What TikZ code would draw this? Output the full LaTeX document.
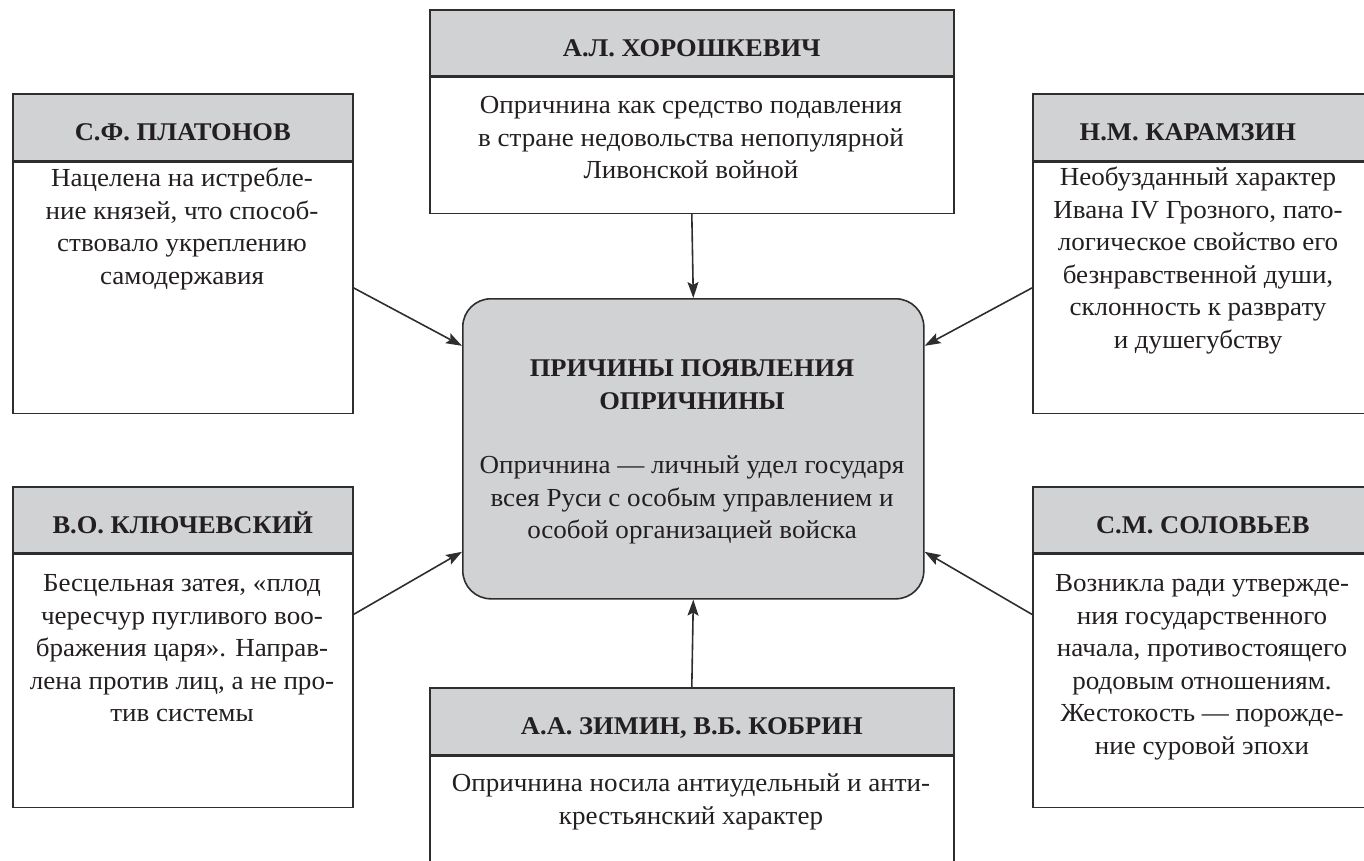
\documentclass[tikz,border=0pt]{standalone}
\usepackage{fontspec}
\setmainfont{Liberation Serif}[FakeStretch=1.04]
\usetikzlibrary{arrows.meta}
\definecolor{hdr}{HTML}{D1D2D4}
\definecolor{ink}{HTML}{2E2E2E}
\definecolor{txt}{HTML}{231F20}
\newcommand\bodyfnt{\fontsize{26}{32.5}\selectfont}
\newcommand\headfnt{\fontsize{25.5}{33}\selectfont\bfseries}
\begin{document}
\begin{tikzpicture}[x=1pt,y=-1pt,
  hbox/.style={draw=ink,line width=1.6pt,fill=hdr,inner sep=0pt,anchor=north west,
    minimum width=#1,font=\headfnt,text=txt,text height=27pt,text depth=0pt},
  bbox/.style={draw=ink,line width=1.6pt,fill=white,inner sep=0pt,anchor=north west,
    minimum width=#1},
  btext/.style={anchor=north,inner sep=0pt,align=center,font=\bodyfnt,text=txt},
  arr/.style={draw=ink,line width=1.6pt,-{Stealth[length=16pt,width=11pt,inset=3pt]}}]
\useasboundingbox (0,0) rectangle (1364,860);
\clip (0,0) rectangle (1364,860);

% top box
\node[hbox=524pt,minimum height=66pt] (tH) at (429,9) {А.Л. ХОРОШКЕВИЧ};
\node[bbox=524pt,minimum height=136pt] (tB) at (tH.south west) {};
\node[btext] (tT) at (691,91) {\strut Опричнина как средство подавления\\в стране недовольства непопулярной\\Ливонской войной};

% left top
\node[hbox=340pt,minimum height=67pt] (ltH) at (12,93) {С.Ф. ПЛАТОНОВ};
\node[bbox=340pt,minimum height=251pt] (ltB) at (ltH.south west) {};
\node[btext] (ltT) at (182,164) {\strut Нацелена на истребле-\\ние князей, что способ-\\ствовало укреплению\\самодержавия};

% right top
\node[hbox=340pt,minimum height=67pt] (rtH) at (1032,93) {\hspace*{-30pt}Н.М. КАРАМЗИН};
\node[bbox=340pt,minimum height=251pt] (rtB) at (rtH.south west) {};
\node[btext] (rtT) at (1198,163) {\strut Необузданный характер\\Ивана IV Грозного, пато-\\логическое свойство его\\безнравственной души,\\склонность к разврату\\и душегубству};

% left bottom
\node[hbox=340pt,minimum height=66pt] (lbH) at (12,486) {В.О. КЛЮЧЕВСКИЙ};
\node[bbox=340pt,minimum height=253pt] (lbB) at (lbH.south west) {};
\node[btext] (lbT) at (182,569) {\strut Бесцельная затея, «плод\\чересчур пугливого воо-\\бражения царя». Направ-\\лена против лиц, а не про-\\тив системы};

% right bottom
\node[hbox=340pt,minimum height=66pt] (rbH) at (1032,486) {С.М. СОЛОВЬЕВ};
\node[bbox=340pt,minimum height=253pt] (rbB) at (rbH.south west) {};
\node[btext] (rbT) at (1202,569) {\strut Возникла ради утвержде-\\ния государственного\\начала, противостоящего\\родовым отношениям.\\Жестокость — порожде-\\ние суровой эпохи};

% bottom box
\node[hbox=524pt,minimum height=67pt] (bH) at (429,687) {А.А. ЗИМИН, В.Б. КОБРИН};
\node[bbox=524pt,minimum height=160pt] (bB) at (bH.south west) {};
\node[btext] (bT) at (691,769) {\strut Опричнина носила антиудельный и анти-\\крестьянский характер};

% centre
\node[draw=ink,line width=1.6pt,fill=hdr,rounded corners=28pt,inner sep=0pt,anchor=north west,
  minimum width=461pt,minimum height=300pt] (C) at (462,298) {};
\node[btext,anchor=center] (CT) at (692,452) {{\headfnt ПРИЧИНЫ ПОЯВЛЕНИЯ}\\{\headfnt ОПРИЧНИНЫ}\\[32pt]Опричнина — личный удел государя\\всея Руси с особым управлением и\\особой организацией войска};

% connectors
\draw[arr] (tB.south) -- (C.north);
\draw[arr] (bH.north) -- (C.south);
\draw[arr] (ltB.east) -- (C.156);
\draw[arr] ([yshift=66.5pt]lbB.east) -- (C.204);
\draw[arr] (rtB.west) -- (C.24);
\draw[arr] ([yshift=66.5pt]rbB.west) -- (C.-24);
\end{tikzpicture}
\end{document}
